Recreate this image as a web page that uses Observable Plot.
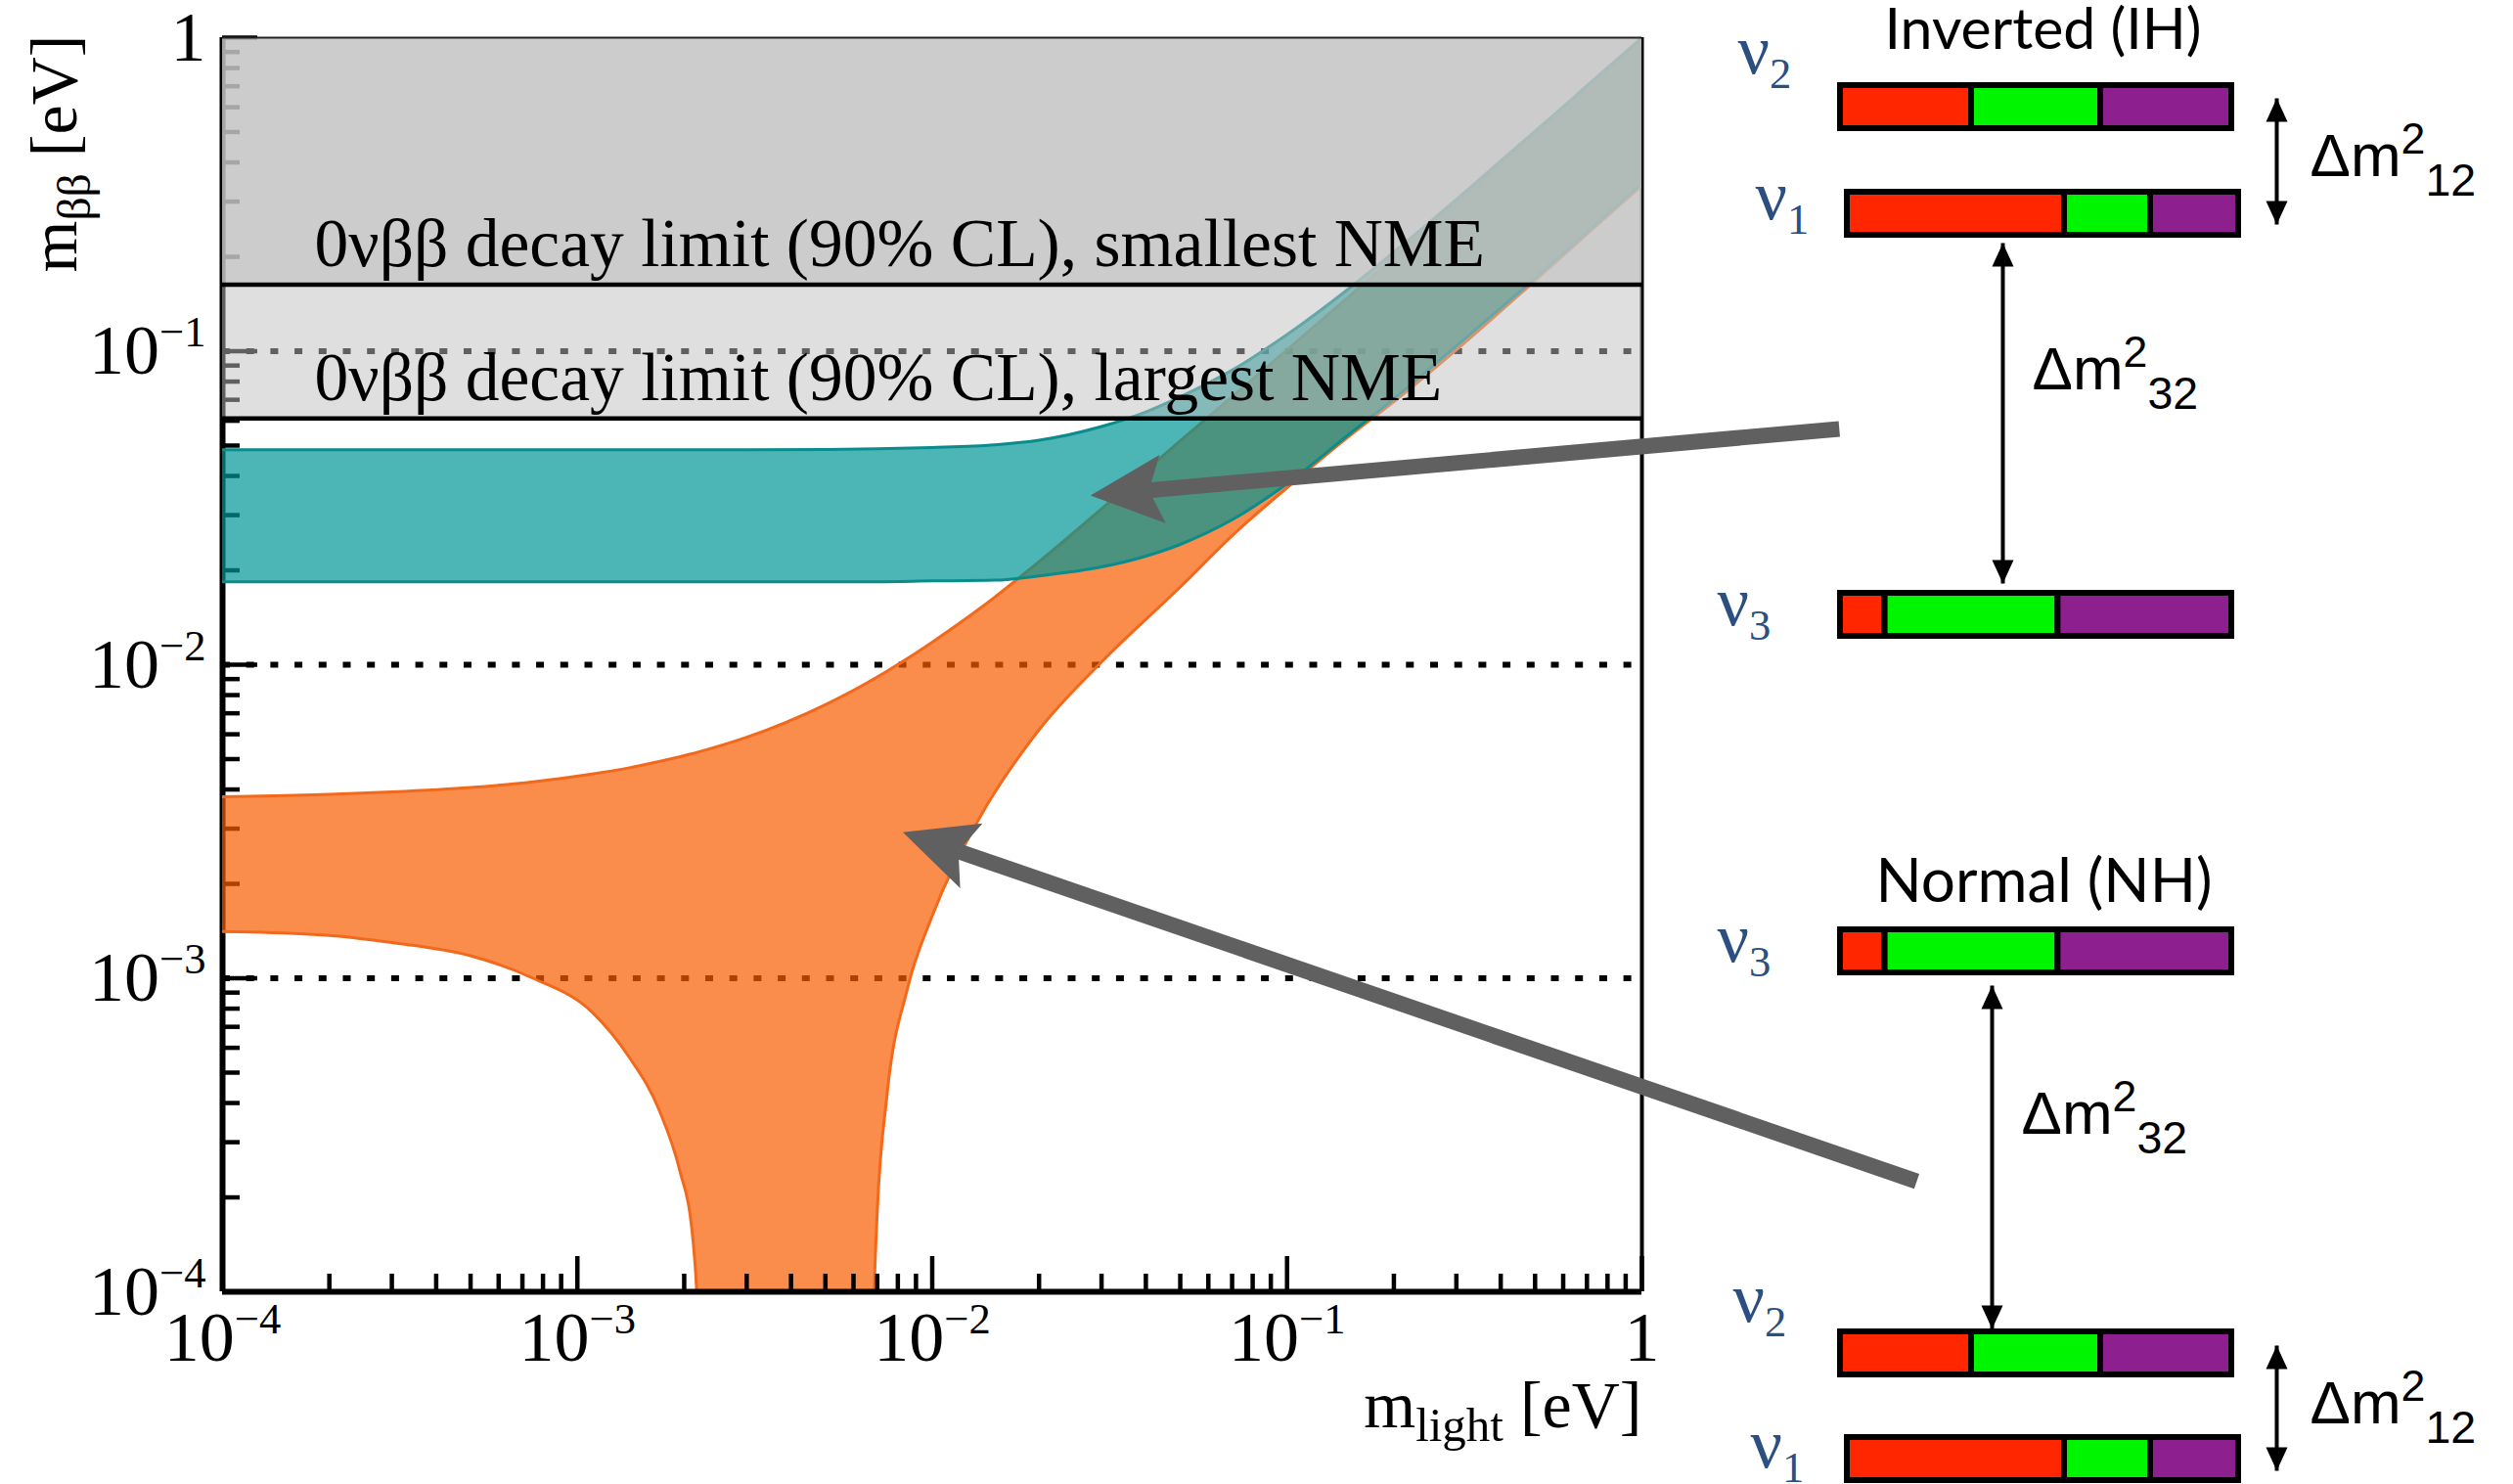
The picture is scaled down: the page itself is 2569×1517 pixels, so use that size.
<!DOCTYPE html>
<html><head><meta charset="utf-8">
<script src="https://cdn.jsdelivr.net/npm/d3@7"></script>
<script src="https://cdn.jsdelivr.net/npm/@observablehq/plot@0.6"></script>
<style>
html,body{margin:0;padding:0;background:#fff;overflow:hidden;}
#wrap{position:relative;width:2569px;height:1517px;background:#fff;}
#wrap svg{position:absolute;left:0;top:0;}
</style></head><body><div id="wrap"></div>
<script>
// ================= DATA =================
// axis ticks
const majorTicks = [1e-4, 1e-3, 1e-2, 1e-1, 1];
const tickLabels = ["10^{−4}", "10^{−3}", "10^{−2}", "10^{−1}", "1"];
const gridLines = [1e-1, 1e-2, 1e-3];

// Normal hierarchy band: m_light [eV], lower / upper m_bb [eV]
const nhMass = [1e-4, 2e-4, 3e-4, 5e-4, 7.5e-4, 1.1e-3, 1.4e-3, 1.7e-3, 1.95e-3, 2.1e-3, 2.17e-3, 2.25e-3, 3e-3, 5e-3, 6.7e-3, 6.86e-3, 7.0e-3, 7.45e-3, 8.5e-3, 0.01, 0.0135, 0.02, 0.03, 0.05, 0.07, 0.1, 0.15, 0.2, 0.3, 0.5, 0.7, 1];
const nhLow  = [0.00141, 0.00137, 0.0013, 0.00118, 0.001, 0.00078, 0.00056, 0.00038, 0.00024, 0.00016, 0.0001, 0.00003, 0.00003, 0.00003, 0.00003, 0.0001, 0.00018, 0.00042, 0.00092, 0.00158, 0.0032, 0.0062, 0.0102, 0.0177, 0.0258, 0.0367, 0.0537, 0.069, 0.101, 0.168, 0.236, 0.338];
const nhHigh = [0.00379, 0.00386, 0.00393, 0.00406, 0.00423, 0.00448, 0.00469, 0.00491, 0.00509, 0.0052, 0.00525, 0.00531, 0.00587, 0.00746, 0.00888, 0.00902, 0.00914, 0.00953, 0.01045, 0.0118, 0.0150, 0.0213, 0.0314, 0.0518, 0.0715, 0.101, 0.150, 0.199, 0.298, 0.496, 0.694, 0.99];

// Inverted hierarchy band
const ihMass = [1e-4, 1e-3, 3e-3, 5e-3, 7e-3, 0.01, 0.015, 0.02, 0.03, 0.04, 0.05, 0.07, 0.1, 0.15, 0.2, 0.3, 0.5, 0.7, 1];
const ihLow  = [0.0184, 0.0184, 0.0184, 0.0184, 0.0184, 0.0185, 0.0186, 0.0192, 0.0205, 0.0222, 0.0242, 0.029, 0.0378, 0.0545, 0.0705, 0.104, 0.171, 0.24, 0.343];
const ihHigh = [0.0485, 0.0485, 0.0485, 0.0486, 0.0488, 0.0493, 0.0503, 0.052, 0.0575, 0.064, 0.0715, 0.087, 0.113, 0.159, 0.207, 0.305, 0.503, 0.702, 1.0];

// 0vbb limits
const limitValues = [0.163, 0.061];
const limitLabels = ["0νββ decay limit (90% CL), smallest NME", "0νββ decay limit (90% CL), largest NME"];

// pointer arrows (tail -> head) in (m_light, m_bb)
const arrowTailM   = [3.6, 5.95];
const arrowTailMbb = [0.0565, 2.25e-4];
const arrowHeadM   = [0.0408, 0.01185];
const arrowHeadMbb = [0.036, 0.00254];

// mass-state flavour content (e, mu, tau)
const flavorColors = ["#ff2600", "#00f500", "#8e1f8e"];
const nu1Mix = [0.555, 0.220, 0.225];
const nu2Mix = [0.335, 0.330, 0.335];
const nu3Mix = [0.114, 0.442, 0.444];
const hierTitles = ["Inverted (IH)", "Normal (NH)"];
const ihOrder = ["ν2", "ν1", "ν3"];
const nhOrder = ["ν3", "ν2", "ν1"];
const splitLabels = ["Δm^{2}_{12}", "Δm^{2}_{32}", "Δm^{2}_{32}", "Δm^{2}_{12}"];

// ================= LAYOUT (positions / styles) =================
const W = 2569, H = 1517;
const FR = {left: 227, right: 1678, top: 38, bottom: 1320};
const NS = "http://www.w3.org/2000/svg";
const SERIF = "'Liberation Serif','Times New Roman',serif";
const SANS = "'Liberation Sans',Arial,sans-serif";
const BX0 = 1881, BX1 = 2281;           // bar inner edges (px)
const toF = px => (px - BX0) / (BX1 - BX0);
const rowLayout = [                     // bar centre y, label pos, small x shift
  {cy: 109, lx: 1776, ly: 74,  shift: 0},
  {cy: 218, lx: 1794, ly: 223, shift: 7},
  {cy: 628, lx: 1755, ly: 638, shift: 0},
  {cy: 972, lx: 1755, ly: 982, shift: 0},
  {cy: 1383, lx: 1771, ly: 1350, shift: 0},
  {cy: 1491, lx: 1789, ly: 1499, shift: 7}
];
const titleLayout = [{x: 2088, y: 49, size: 59}, {x: 2089, y: 921, size: 62}];
const splitLayout = [{x: 2361, y: 179}, {x: 2077, y: 397}, {x: 2066, y: 1158}, {x: 2361, y: 1454}];
const dblLayout = [{x: 2327, y1: 100, y2: 229}, {x: 2047, y1: 248, y2: 596}, {x: 2036, y1: 1007, y2: 1358}, {x: 2327, y1: 1375, y2: 1503}];

// ================= BUILD TABLES =================
const nh = nhMass.map((m, i) => ({m, lo: nhLow[i], hi: nhHigh[i]}));
const ih = ihMass.map((m, i) => ({m, lo: ihLow[i], hi: ihHigh[i]}));
const minor = [];
for (let k = -4; k < 0; k++) for (let j = 2; j <= 9; j++) minor.push(j * Math.pow(10, k));
const fmt = d => tickLabels[majorTicks.indexOf(d)];
const arrows = arrowTailM.map((_, i) => ({x1: arrowTailM[i], y1: arrowTailMbb[i], x2: arrowHeadM[i], y2: arrowHeadMbb[i]}));

const mixOf = {"ν1": nu1Mix, "ν2": nu2Mix, "ν3": nu3Mix};
const rowStates = [...ihOrder, ...nhOrder];
const segs = [];
rowStates.forEach((st, r) => {
  const L = rowLayout[r]; let c = 0;
  mixOf[st].forEach((f, k) => {
    segs.push({x1: c + L.shift / (BX1 - BX0), x2: c + f + L.shift / (BX1 - BX0), y1: L.cy - 22, y2: L.cy + 22, fill: flavorColors[k]});
    c += f;
  });
});
const nuLabels = rowStates.map((st, r) => ({x: toF(rowLayout[r].lx), y: rowLayout[r].ly, t: "ν_{" + st.slice(1) + "}"}));

// ================= MAIN PLOT =================
const main = Plot.plot({
  width: W, height: H,
  marginLeft: FR.left, marginRight: W - FR.right, marginTop: FR.top, marginBottom: H - FR.bottom,
  x: {type: "log", domain: [1e-4, 1], axis: null},
  y: {type: "log", domain: [1e-4, 1], axis: null},
  style: {fontFamily: SERIF, background: "transparent", overflow: "visible"},
  marks: [
    Plot.ruleY(gridLines, {stroke: "#000", strokeWidth: 6, strokeDasharray: "8 16.7"}),
    Plot.ruleY(minor, {x1: 1e-4, x2: 1e-4, insetRight: -18, stroke: "#000", strokeWidth: 4.5}),
    Plot.ruleY(majorTicks, {x1: 1e-4, x2: 1e-4, insetRight: -36, stroke: "#000", strokeWidth: 4.5}),
    Plot.ruleX([1], {stroke: "#000", strokeWidth: 4}),
    Plot.ruleX([1e-4], {stroke: "#000", strokeWidth: 6}),
    // NH band
    Plot.areaY(nh, {x: "m", y1: "lo", y2: "hi", fill: "#f85b00", fillOpacity: 0.7, curve: "monotone-x", clip: true}),
    Plot.line(nh, {x: "m", y: "lo", stroke: "#f2691c", strokeWidth: 3, curve: "monotone-x", clip: true}),
    Plot.line(nh, {x: "m", y: "hi", stroke: "#f2691c", strokeWidth: 3, curve: "monotone-x", clip: true}),
    // IH band
    Plot.areaY(ih, {x: "m", y1: "lo", y2: "hi", fill: "#009696", fillOpacity: 0.7, curve: "monotone-x", clip: true}),
    Plot.line(ih, {x: "m", y: "lo", stroke: "#0a8c8c", strokeWidth: 3, curve: "monotone-x", clip: true}),
    Plot.line(ih, {x: "m", y: "hi", stroke: "#0a8c8c", strokeWidth: 3, curve: "monotone-x", clip: true}),
    // excluded regions
    Plot.rect([0], {x1: 1e-4, x2: 1, y1: limitValues[1], y2: limitValues[0], fill: "#c0c0c0", fillOpacity: 0.5}),
    Plot.rect([0], {x1: 1e-4, x2: 1, y1: limitValues[0], y2: 1, fill: "#c3c3c3", fillOpacity: 0.85}),
    Plot.ruleY(limitValues, {stroke: "#000", strokeWidth: 4.5}),
    // frame
    Plot.ruleY([1e-4], {stroke: "#000", strokeWidth: 6}),
    Plot.ruleX(minor, {y1: 1e-4, y2: 1e-4, insetBottom: 18, stroke: "#000", strokeWidth: 4.5}),
    Plot.ruleX(majorTicks, {y1: 1e-4, y2: 1e-4, insetBottom: 36, stroke: "#000", strokeWidth: 4.5}),
    Plot.ruleY([1], {stroke: "#222", strokeWidth: 2}),
    // texts
    Plot.text(limitValues, {x: 1e-4, y: d => d, text: (d, i) => limitLabels[i], dx: 94, dy: -19, textAnchor: "start", lineAnchor: "bottom", fontSize: 69.5, fill: "#000"}),
    Plot.axisY({ticks: majorTicks, tickFormat: fmt, tickSize: 0, tickPadding: 17, fontSize: 72, label: null, anchor: "left"}),
    Plot.axisX({ticks: majorTicks, tickFormat: fmt, tickSize: 0, tickPadding: 19, fontSize: 72, label: null, anchor: "bottom"}),
    Plot.text(["m_{ββ} [eV]"], {x: 1e-4, y: 1, dx: -150, dy: 240, rotate: -90, text: d => d, textAnchor: "start", lineAnchor: "bottom", fontSize: 68, fill: "#000"}),
    Plot.text(["m_{light} [eV]"], {x: 1, y: 1e-4, dy: 138, text: d => d, textAnchor: "end", lineAnchor: "bottom", fontSize: 68, fill: "#000"}),
    // pointers
    Plot.link(arrows, {x1: "x1", y1: "y1", x2: "x2", y2: "y2", stroke: "#606060", strokeWidth: 16})
  ]
});

// ================= DIAGRAM =================
const diagram = Plot.plot({
  width: W, height: H, margin: 0,
  x: {domain: [0, 1], range: [BX0, BX1], axis: null},
  y: {domain: [0, H], range: [0, H], axis: null},
  color: {type: "identity"},
  style: {background: "transparent", overflow: "visible"},
  marks: [
    Plot.link(dblLayout, {x1: d => toF(d.x), x2: d => toF(d.x), y1: "y1", y2: "y2", stroke: "#000", strokeWidth: 4}),
    Plot.rect(segs, {x1: "x1", x2: "x2", y1: "y1", y2: "y2", fill: "fill", stroke: "#000", strokeWidth: 6}),
    Plot.text([hierTitles[0]], {x: toF(titleLayout[0].x), y: titleLayout[0].y, text: d => d, textAnchor: "middle", lineAnchor: "bottom", fontSize: titleLayout[0].size, fontFamily: "Lato, 'Open Sans', sans-serif", fill: "#000"}),
    Plot.text([hierTitles[1]], {x: toF(titleLayout[1].x), y: titleLayout[1].y, text: d => d, textAnchor: "middle", lineAnchor: "bottom", fontSize: titleLayout[1].size, fontFamily: "Lato, 'Open Sans', sans-serif", fill: "#000"}),
    Plot.text(nuLabels, {x: "x", y: "y", text: "t", textAnchor: "start", lineAnchor: "bottom", fontSize: 72, fontFamily: SERIF, fill: "#2b4f81"}),
    Plot.text(splitLabels, {x: (d, i) => toF(splitLayout[i].x), y: (d, i) => splitLayout[i].y, text: d => d, textAnchor: "start", lineAnchor: "bottom", fontSize: 62, fontFamily: SANS, fill: "#000"})
  ]
});

// ================= POST-PROCESS (super/subscripts, arrow heads) =================
const richParams = [
  {test: /^10\^/, size: 72, o: {raise: 28, supScale: 0.62}},
  {test: /^m_\{ββ/, size: 68, o: {drop: 14, subScale: 0.7}},
  {test: /^m_\{light/, size: 68, o: {drop: 14, subScale: 0.72}},
  {test: /^ν_/, size: 72, o: {drop: 15, subScale: 0.62}},
  {test: /^Δm/, size: 62, o: {raise: 23, supScale: 0.72, drop: 20, subScale: 0.75}}
];
function richify(svg) {
  svg.querySelectorAll("text").forEach(t => {
    const s = t.textContent;
    const p = richParams.find(r => r.test.test(s));
    if (!p || !/[\^_]\{/.test(s)) return;
    const size = p.size, o = p.o;
    while (t.firstChild) t.removeChild(t.firstChild);
    const re = /([\^_])\{([^}]*)\}|([^\^_]+)/g;
    let m, cur = 0;
    while ((m = re.exec(s))) {
      const ts = document.createElementNS(NS, "tspan");
      let off, fs, str;
      if (m[3] !== undefined) { off = 0; fs = size; str = m[3]; }
      else if (m[1] === "^") { off = -o.raise; fs = size * o.supScale; str = m[2]; }
      else { off = o.drop; fs = size * o.subScale; str = m[2]; }
      if (off !== cur) ts.setAttribute("dy", off - cur);
      ts.setAttribute("font-size", fs);
      ts.textContent = str;
      t.appendChild(ts);
      cur = off;
    }
  });
}
richify(main);
richify(diagram);

function addMarker(svg, id, d, color, orient) {
  let defs = svg.querySelector("defs");
  if (!defs) { defs = document.createElementNS(NS, "defs"); svg.insertBefore(defs, svg.firstChild); }
  const mk = document.createElementNS(NS, "marker");
  mk.setAttribute("id", id);
  mk.setAttribute("markerUnits", "userSpaceOnUse");
  mk.setAttribute("viewBox", "-100 -100 200 200");
  mk.setAttribute("markerWidth", 200);
  mk.setAttribute("markerHeight", 200);
  mk.setAttribute("refX", 0);
  mk.setAttribute("refY", 0);
  mk.setAttribute("orient", orient);
  mk.setAttribute("overflow", "visible");
  const p = document.createElementNS(NS, "path");
  p.setAttribute("d", d);
  p.setAttribute("fill", color);
  mk.appendChild(p);
  defs.appendChild(mk);
}
addMarker(main, "stealth-end", "M60,0L-14,-35L0,0L-14,35Z", "#606060", "auto");
main.querySelectorAll('g[stroke="#606060"] path').forEach(p => p.setAttribute("marker-end", "url(#stealth-end)"));
addMarker(diagram, "tri-end", "M0,0L-24,-11L-24,11Z", "#000", "auto");
addMarker(diagram, "tri-start", "M0,0L-24,-11L-24,11Z", "#000", "auto-start-reverse");
diagram.querySelectorAll('g[stroke-width="4"] path').forEach(p => { p.setAttribute("marker-end", "url(#tri-end)"); p.setAttribute("marker-start", "url(#tri-start)"); });

const wrap = document.getElementById("wrap");
wrap.appendChild(main);
wrap.appendChild(diagram);
</script></body></html>
